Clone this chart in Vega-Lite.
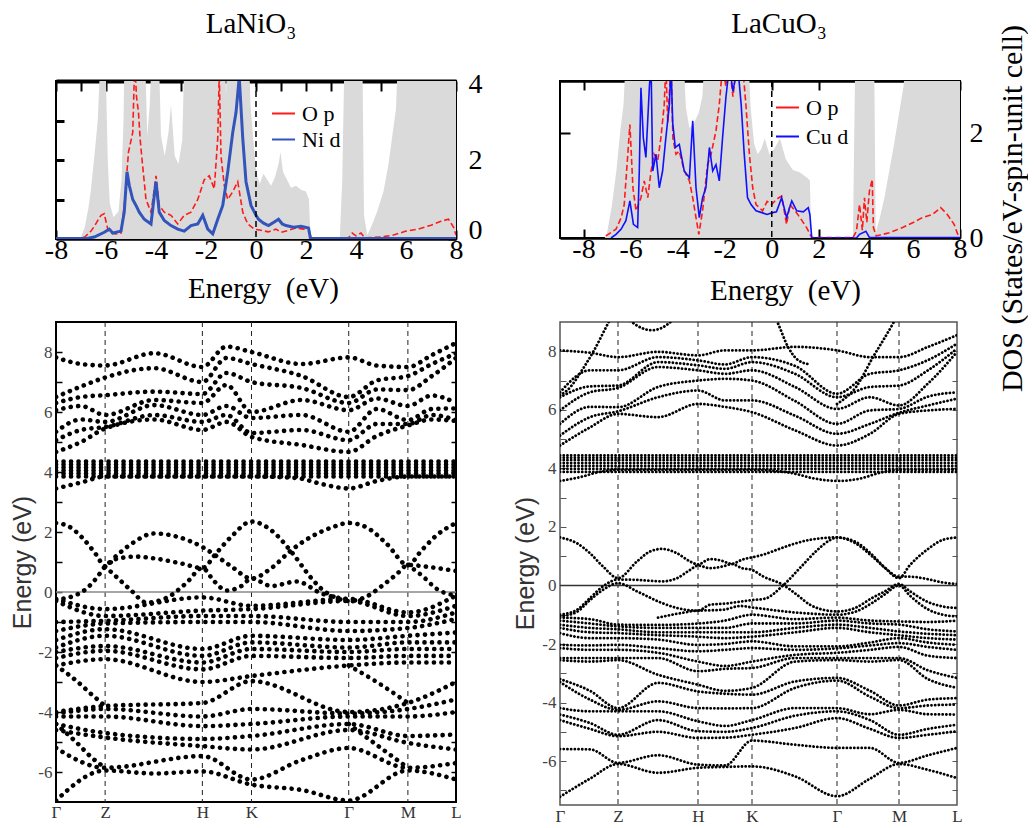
{
"$schema":"https://vega.github.io/schema/vega-lite/v6.json",
"background":"white",
"padding":{"left":9,"top":9,"right":0,"bottom":0},
"config":{"view":{"stroke":"black","strokeWidth":2},"axis":{"grid":false}},
"datasets":{
"dosL":[
{"s":"t","x":-8,"y":0},{"s":"t","x":-7.2,"y":0},{"s":"t","x":-7.0,"y":0.05},{"s":"t","x":-6.85,"y":0.3},{"s":"t","x":-6.7,"y":0.8},{"s":"t","x":-6.6,"y":1.27},{"s":"t","x":-6.45,"y":2.2},{"s":"t","x":-6.33,"y":3.0},{"s":"t","x":-6.25,"y":4.2},{"s":"t","x":-6.1,"y":5},{"s":"t","x":-6.0,"y":4.0},{"s":"t","x":-5.93,"y":2.0},{"s":"t","x":-5.85,"y":0.9},{"s":"t","x":-5.7,"y":0.55},{"s":"t","x":-5.5,"y":0.7},{"s":"t","x":-5.38,"y":1.5},{"s":"t","x":-5.3,"y":3.0},{"s":"t","x":-5.25,"y":5},{"s":"t","x":-4.45,"y":5},{"s":"t","x":-4.35,"y":2.6},{"s":"t","x":-4.25,"y":3.4},{"s":"t","x":-4.15,"y":5},{"s":"t","x":-3.9,"y":5},{"s":"t","x":-3.8,"y":2.6},{"s":"t","x":-3.65,"y":2.1},{"s":"t","x":-3.5,"y":2.7},{"s":"t","x":-3.4,"y":3.4},{"s":"t","x":-3.25,"y":2.1},{"s":"t","x":-3.1,"y":1.9},{"s":"t","x":-2.95,"y":2.5},{"s":"t","x":-2.85,"y":5},{"s":"t","x":-1.25,"y":5},{"s":"t","x":-1.2,"y":3.6},{"s":"t","x":-1.15,"y":5},{"s":"t","x":-0.3,"y":5},{"s":"t","x":-0.22,"y":3.4},{"s":"t","x":-0.12,"y":2.6},{"s":"t","x":-0.02,"y":1.9},{"s":"t","x":0.05,"y":1.6},{"s":"t","x":0.15,"y":1.4},{"s":"t","x":0.3,"y":1.65},{"s":"t","x":0.45,"y":1.5},{"s":"t","x":0.6,"y":1.35},{"s":"t","x":0.75,"y":1.55},{"s":"t","x":0.9,"y":1.9},{"s":"t","x":0.98,"y":2.2},{"s":"t","x":1.08,"y":1.7},{"s":"t","x":1.2,"y":1.55},{"s":"t","x":1.4,"y":1.3},{"s":"t","x":1.6,"y":1.35},{"s":"t","x":1.8,"y":1.25},{"s":"t","x":2.0,"y":1.2},{"s":"t","x":2.12,"y":1.0},{"s":"t","x":2.18,"y":0},{"s":"t","x":3.35,"y":0},{"s":"t","x":3.45,"y":1.5},{"s":"t","x":3.55,"y":5},{"s":"t","x":4.25,"y":5},{"s":"t","x":4.32,"y":0.6},{"s":"t","x":4.45,"y":0.1},{"s":"t","x":4.6,"y":0.3},{"s":"t","x":4.85,"y":0.7},{"s":"t","x":5.1,"y":1.2},{"s":"t","x":5.3,"y":1.9},{"s":"t","x":5.45,"y":2.6},{"s":"t","x":5.6,"y":3.3},{"s":"t","x":5.7,"y":5},{"s":"t","x":8,"y":5},
{"s":"O p","x":-8,"y":0.02},{"s":"O p","x":-7.0,"y":0.03},{"s":"O p","x":-6.85,"y":0.05},{"s":"O p","x":-6.6,"y":0.2},{"s":"O p","x":-6.45,"y":0.34},{"s":"O p","x":-6.3,"y":0.5},{"s":"O p","x":-6.2,"y":0.6},{"s":"O p","x":-6.07,"y":0.64},{"s":"O p","x":-5.93,"y":0.25},{"s":"O p","x":-5.8,"y":0.15},{"s":"O p","x":-5.6,"y":0.13},{"s":"O p","x":-5.4,"y":0.15},{"s":"O p","x":-5.27,"y":0.85},{"s":"O p","x":-5.1,"y":2.2},{"s":"O p","x":-4.93,"y":2.7},{"s":"O p","x":-4.85,"y":4.5},{"s":"O p","x":-4.78,"y":3.6},{"s":"O p","x":-4.7,"y":3.2},{"s":"O p","x":-4.63,"y":2.5},{"s":"O p","x":-4.55,"y":1.95},{"s":"O p","x":-4.4,"y":1.0},{"s":"O p","x":-4.2,"y":0.68},{"s":"O p","x":-4.08,"y":1.2},{"s":"O p","x":-4.0,"y":1.6},{"s":"O p","x":-3.87,"y":0.85},{"s":"O p","x":-3.67,"y":0.68},{"s":"O p","x":-3.4,"y":0.6},{"s":"O p","x":-3.13,"y":0.38},{"s":"O p","x":-2.87,"y":0.6},{"s":"O p","x":-2.6,"y":0.68},{"s":"O p","x":-2.33,"y":1.0},{"s":"O p","x":-2.07,"y":1.5},{"s":"O p","x":-1.87,"y":1.6},{"s":"O p","x":-1.67,"y":1.27},{"s":"O p","x":-1.53,"y":2.55},{"s":"O p","x":-1.47,"y":4.2},{"s":"O p","x":-1.4,"y":2.1},{"s":"O p","x":-1.27,"y":1.36},{"s":"O p","x":-1.13,"y":1.0},{"s":"O p","x":-0.93,"y":1.2},{"s":"O p","x":-0.73,"y":1.45},{"s":"O p","x":-0.53,"y":0.68},{"s":"O p","x":-0.33,"y":0.38},{"s":"O p","x":-0.07,"y":0.25},{"s":"O p","x":0.2,"y":0.22},{"s":"O p","x":0.5,"y":0.18},{"s":"O p","x":0.8,"y":0.25},{"s":"O p","x":1.0,"y":0.17},{"s":"O p","x":1.3,"y":0.22},{"s":"O p","x":1.6,"y":0.28},{"s":"O p","x":1.9,"y":0.25},{"s":"O p","x":2.1,"y":0.28},{"s":"O p","x":2.2,"y":0.03},{"s":"O p","x":3.7,"y":0.03},{"s":"O p","x":3.85,"y":0.15},{"s":"O p","x":4.0,"y":0.08},{"s":"O p","x":4.2,"y":0.15},{"s":"O p","x":4.35,"y":0.03},{"s":"O p","x":5.0,"y":0.05},{"s":"O p","x":5.5,"y":0.1},{"s":"O p","x":6.0,"y":0.2},{"s":"O p","x":6.5,"y":0.25},{"s":"O p","x":7.0,"y":0.35},{"s":"O p","x":7.4,"y":0.45},{"s":"O p","x":7.7,"y":0.5},{"s":"O p","x":7.9,"y":0.3},{"s":"O p","x":8.0,"y":0.1},
{"s":"Ni d","x":-8,"y":0.01},{"s":"Ni d","x":-6.8,"y":0.01},{"s":"Ni d","x":-6.47,"y":0.05},{"s":"Ni d","x":-6.07,"y":0.17},{"s":"Ni d","x":-5.87,"y":0.25},{"s":"Ni d","x":-5.73,"y":0.15},{"s":"Ni d","x":-5.4,"y":0.2},{"s":"Ni d","x":-5.27,"y":0.68},{"s":"Ni d","x":-5.16,"y":1.7},{"s":"Ni d","x":-5.07,"y":1.36},{"s":"Ni d","x":-4.93,"y":1.0},{"s":"Ni d","x":-4.8,"y":0.85},{"s":"Ni d","x":-4.67,"y":0.68},{"s":"Ni d","x":-4.47,"y":0.5},{"s":"Ni d","x":-4.2,"y":0.38},{"s":"Ni d","x":-4.05,"y":1.2},{"s":"Ni d","x":-4.0,"y":1.45},{"s":"Ni d","x":-3.87,"y":0.68},{"s":"Ni d","x":-3.67,"y":0.47},{"s":"Ni d","x":-3.4,"y":0.34},{"s":"Ni d","x":-3.13,"y":0.25},{"s":"Ni d","x":-2.87,"y":0.2},{"s":"Ni d","x":-2.6,"y":0.34},{"s":"Ni d","x":-2.33,"y":0.38},{"s":"Ni d","x":-2.13,"y":0.6},{"s":"Ni d","x":-1.93,"y":0.25},{"s":"Ni d","x":-1.73,"y":0.13},{"s":"Ni d","x":-1.53,"y":0.5},{"s":"Ni d","x":-1.33,"y":0.85},{"s":"Ni d","x":-1.13,"y":1.7},{"s":"Ni d","x":-0.93,"y":2.7},{"s":"Ni d","x":-0.8,"y":3.2},{"s":"Ni d","x":-0.67,"y":4.1},{"s":"Ni d","x":-0.53,"y":2.55},{"s":"Ni d","x":-0.4,"y":1.45},{"s":"Ni d","x":-0.2,"y":0.85},{"s":"Ni d","x":0.0,"y":0.6},{"s":"Ni d","x":0.1,"y":0.5},{"s":"Ni d","x":0.3,"y":0.4},{"s":"Ni d","x":0.5,"y":0.34},{"s":"Ni d","x":0.7,"y":0.42},{"s":"Ni d","x":0.9,"y":0.5},{"s":"Ni d","x":1.05,"y":0.38},{"s":"Ni d","x":1.2,"y":0.34},{"s":"Ni d","x":1.5,"y":0.3},{"s":"Ni d","x":1.8,"y":0.32},{"s":"Ni d","x":2.1,"y":0.28},{"s":"Ni d","x":2.18,"y":0.01},{"s":"Ni d","x":8,"y":0.01}
],
"dosR":[
{"s":"t","x":-9,"y":0},{"s":"t","x":-7.1,"y":0},{"s":"t","x":-7.0,"y":0.1},{"s":"t","x":-6.8,"y":0.6},{"s":"t","x":-6.6,"y":1.3},{"s":"t","x":-6.45,"y":2.0},{"s":"t","x":-6.3,"y":2.55},{"s":"t","x":-6.2,"y":3.5},{"s":"t","x":-3.75,"y":3.5},{"s":"t","x":-3.65,"y":2.5},{"s":"t","x":-3.5,"y":2.1},{"s":"t","x":-3.3,"y":2.2},{"s":"t","x":-3.1,"y":2.4},{"s":"t","x":-2.95,"y":2.7},{"s":"t","x":-2.85,"y":3.5},{"s":"t","x":-1.0,"y":3.5},{"s":"t","x":-0.9,"y":2.5},{"s":"t","x":-0.75,"y":1.8},{"s":"t","x":-0.6,"y":1.6},{"s":"t","x":-0.45,"y":1.7},{"s":"t","x":-0.3,"y":1.9},{"s":"t","x":-0.1,"y":1.6},{"s":"t","x":0.1,"y":1.7},{"s":"t","x":0.35,"y":1.9},{"s":"t","x":0.6,"y":1.5},{"s":"t","x":0.9,"y":1.3},{"s":"t","x":1.2,"y":1.25},{"s":"t","x":1.5,"y":1.15},{"s":"t","x":1.62,"y":1.1},{"s":"t","x":1.68,"y":0},{"s":"t","x":3.45,"y":0},{"s":"t","x":3.55,"y":3.5},{"s":"t","x":4.35,"y":3.5},{"s":"t","x":4.42,"y":0.1},{"s":"t","x":4.6,"y":0.4},{"s":"t","x":4.8,"y":0.8},{"s":"t","x":5.0,"y":1.3},{"s":"t","x":5.2,"y":1.8},{"s":"t","x":5.4,"y":2.35},{"s":"t","x":5.6,"y":2.9},{"s":"t","x":5.72,"y":3.5},{"s":"t","x":8,"y":3.5},
{"s":"O p","x":-7.05,"y":0.04},{"s":"O p","x":-6.62,"y":0.17},{"s":"O p","x":-6.4,"y":0.39},{"s":"O p","x":-6.27,"y":0.64},{"s":"O p","x":-6.15,"y":1.4},{"s":"O p","x":-6.03,"y":2.17},{"s":"O p","x":-5.9,"y":0.96},{"s":"O p","x":-5.77,"y":0.52},{"s":"O p","x":-5.56,"y":0.77},{"s":"O p","x":-5.42,"y":1.09},{"s":"O p","x":-5.27,"y":0.77},{"s":"O p","x":-5.13,"y":1.28},{"s":"O p","x":-5.0,"y":1.6},{"s":"O p","x":-4.85,"y":1.47},{"s":"O p","x":-4.71,"y":1.92},{"s":"O p","x":-4.57,"y":2.55},{"s":"O p","x":-4.5,"y":3.3},{"s":"O p","x":-4.42,"y":2.2},{"s":"O p","x":-4.35,"y":2.8},{"s":"O p","x":-4.28,"y":3.3},{"s":"O p","x":-4.2,"y":1.9},{"s":"O p","x":-4.07,"y":1.6},{"s":"O p","x":-3.93,"y":1.66},{"s":"O p","x":-3.72,"y":1.28},{"s":"O p","x":-3.5,"y":1.09},{"s":"O p","x":-3.36,"y":0.77},{"s":"O p","x":-3.22,"y":0.39},{"s":"O p","x":-3.1,"y":0.07},{"s":"O p","x":-2.94,"y":0.52},{"s":"O p","x":-2.73,"y":1.4},{"s":"O p","x":-2.58,"y":1.6},{"s":"O p","x":-2.37,"y":2.05},{"s":"O p","x":-2.23,"y":2.55},{"s":"O p","x":-2.09,"y":3.3},{"s":"O p","x":-1.95,"y":2.9},{"s":"O p","x":-1.8,"y":3.3},{"s":"O p","x":-1.65,"y":2.7},{"s":"O p","x":-1.5,"y":3.3},{"s":"O p","x":-1.24,"y":3.3},{"s":"O p","x":-1.1,"y":2.55},{"s":"O p","x":-0.95,"y":1.6},{"s":"O p","x":-0.81,"y":0.96},{"s":"O p","x":-0.67,"y":0.64},{"s":"O p","x":-0.39,"y":0.52},{"s":"O p","x":-0.2,"y":0.7},{"s":"O p","x":0.0,"y":0.64},{"s":"O p","x":0.2,"y":0.74},{"s":"O p","x":0.42,"y":0.8},{"s":"O p","x":0.63,"y":0.26},{"s":"O p","x":0.77,"y":0.64},{"s":"O p","x":0.99,"y":0.52},{"s":"O p","x":1.2,"y":0.39},{"s":"O p","x":1.48,"y":0.2},{"s":"O p","x":1.7,"y":0.01},{"s":"O p","x":3.45,"y":0.01},{"s":"O p","x":3.6,"y":0.13},{"s":"O p","x":3.73,"y":0.64},{"s":"O p","x":3.85,"y":0.15},{"s":"O p","x":3.94,"y":0.77},{"s":"O p","x":4.04,"y":0.3},{"s":"O p","x":4.15,"y":0.9},{"s":"O p","x":4.27,"y":1.12},{"s":"O p","x":4.32,"y":0.2},{"s":"O p","x":4.44,"y":0.04},{"s":"O p","x":5.0,"y":0.1},{"s":"O p","x":5.56,"y":0.2},{"s":"O p","x":5.99,"y":0.29},{"s":"O p","x":6.4,"y":0.39},{"s":"O p","x":6.83,"y":0.45},{"s":"O p","x":7.18,"y":0.58},{"s":"O p","x":7.46,"y":0.45},{"s":"O p","x":7.75,"y":0.26},{"s":"O p","x":7.93,"y":0.04},
{"s":"Cu d","x":-6.83,"y":0},{"s":"Cu d","x":-6.62,"y":0.07},{"s":"Cu d","x":-6.4,"y":0.17},{"s":"Cu d","x":-6.2,"y":0.33},{"s":"Cu d","x":-6.03,"y":0.71},{"s":"Cu d","x":-5.88,"y":0.26},{"s":"Cu d","x":-5.7,"y":0.2},{"s":"Cu d","x":-5.63,"y":1.28},{"s":"Cu d","x":-5.56,"y":2.87},{"s":"Cu d","x":-5.46,"y":1.92},{"s":"Cu d","x":-5.35,"y":1.54},{"s":"Cu d","x":-5.2,"y":2.9},{"s":"Cu d","x":-5.13,"y":3.3},{"s":"Cu d","x":-5.06,"y":1.28},{"s":"Cu d","x":-4.92,"y":1.6},{"s":"Cu d","x":-4.78,"y":0.96},{"s":"Cu d","x":-4.64,"y":1.28},{"s":"Cu d","x":-4.5,"y":1.92},{"s":"Cu d","x":-4.35,"y":2.55},{"s":"Cu d","x":-4.28,"y":3.3},{"s":"Cu d","x":-4.21,"y":2.2},{"s":"Cu d","x":-4.1,"y":1.73},{"s":"Cu d","x":-3.93,"y":1.79},{"s":"Cu d","x":-3.72,"y":1.28},{"s":"Cu d","x":-3.5,"y":1.15},{"s":"Cu d","x":-3.36,"y":2.24},{"s":"Cu d","x":-3.22,"y":0.96},{"s":"Cu d","x":-3.08,"y":0.39},{"s":"Cu d","x":-2.94,"y":0.77},{"s":"Cu d","x":-2.8,"y":0.96},{"s":"Cu d","x":-2.65,"y":1.73},{"s":"Cu d","x":-2.51,"y":1.28},{"s":"Cu d","x":-2.37,"y":1.4},{"s":"Cu d","x":-2.23,"y":1.09},{"s":"Cu d","x":-2.09,"y":1.92},{"s":"Cu d","x":-1.95,"y":2.68},{"s":"Cu d","x":-1.8,"y":3.3},{"s":"Cu d","x":-1.65,"y":2.8},{"s":"Cu d","x":-1.45,"y":3.3},{"s":"Cu d","x":-1.3,"y":2.55},{"s":"Cu d","x":-1.17,"y":1.6},{"s":"Cu d","x":-1.03,"y":0.77},{"s":"Cu d","x":-0.88,"y":0.64},{"s":"Cu d","x":-0.67,"y":0.52},{"s":"Cu d","x":-0.39,"y":0.48},{"s":"Cu d","x":-0.2,"y":0.45},{"s":"Cu d","x":0.0,"y":0.48},{"s":"Cu d","x":0.2,"y":0.5},{"s":"Cu d","x":0.42,"y":0.77},{"s":"Cu d","x":0.63,"y":0.39},{"s":"Cu d","x":0.85,"y":0.71},{"s":"Cu d","x":1.06,"y":0.52},{"s":"Cu d","x":1.34,"y":0.5},{"s":"Cu d","x":1.55,"y":0.58},{"s":"Cu d","x":1.62,"y":0.45},{"s":"Cu d","x":1.7,"y":0.0},{"s":"Cu d","x":3.6,"y":0.0},{"s":"Cu d","x":3.73,"y":0.07},{"s":"Cu d","x":4.0,"y":0.13},{"s":"Cu d","x":4.15,"y":0.01},{"s":"Cu d","x":8,"y":0.01}
],
"bandL":[
{"b":"v1","k":0,"e":-0.23},{"b":"v1","k":49,"e":-0.57},{"b":"v1","k":146,"e":-0.18},{"b":"v1","k":195,"e":-0.46},{"b":"v1","k":292,"e":-0.23},{"b":"v1","k":351,"e":-0.68},{"b":"v1","k":399,"e":-0.12},
{"b":"v2","k":0,"e":-0.3},{"b":"v2","k":49,"e":-0.8},{"b":"v2","k":146,"e":-0.62},{"b":"v2","k":195,"e":-0.57},{"b":"v2","k":292,"e":-0.3},{"b":"v2","k":351,"e":-0.8},{"b":"v2","k":399,"e":-0.46},
{"b":"v3","k":0,"e":-1.0},{"b":"v3","k":49,"e":-0.96},{"b":"v3","k":146,"e":-0.8},{"b":"v3","k":195,"e":-0.8},{"b":"v3","k":292,"e":-1.0},{"b":"v3","k":351,"e":-1.0},{"b":"v3","k":399,"e":-0.68},
{"b":"v4","k":0,"e":-1.3},{"b":"v4","k":49,"e":-1.05},{"b":"v4","k":146,"e":-1.0},{"b":"v4","k":195,"e":-1.0},{"b":"v4","k":292,"e":-1.3},{"b":"v4","k":351,"e":-1.2},{"b":"v4","k":399,"e":-0.9},
{"b":"v5","k":0,"e":-1.6},{"b":"v5","k":49,"e":-1.24},{"b":"v5","k":146,"e":-1.9},{"b":"v5","k":195,"e":-1.46},{"b":"v5","k":292,"e":-1.6},{"b":"v5","k":351,"e":-1.46},{"b":"v5","k":399,"e":-1.35},
{"b":"v6","k":0,"e":-1.85},{"b":"v6","k":49,"e":-1.46},{"b":"v6","k":146,"e":-2.13},{"b":"v6","k":195,"e":-1.68},{"b":"v6","k":292,"e":-1.85},{"b":"v6","k":351,"e":-1.68},{"b":"v6","k":399,"e":-1.68},
{"b":"v7","k":0,"e":-2.0},{"b":"v7","k":49,"e":-1.8},{"b":"v7","k":146,"e":-2.35},{"b":"v7","k":195,"e":-1.9},{"b":"v7","k":292,"e":-2.0},{"b":"v7","k":351,"e":-1.9},{"b":"v7","k":399,"e":-1.9},
{"b":"v8","k":0,"e":-2.2},{"b":"v8","k":49,"e":-1.96},{"b":"v8","k":146,"e":-2.58},{"b":"v8","k":195,"e":-2.13},{"b":"v8","k":292,"e":-2.2},{"b":"v8","k":351,"e":-2.13},{"b":"v8","k":399,"e":-2.13},
{"b":"v9","k":0,"e":-2.45},{"b":"v9","k":49,"e":-2.24},{"b":"v9","k":146,"e":-3.0},{"b":"v9","k":195,"e":-2.8},{"b":"v9","k":292,"e":-2.45},{"b":"v9","k":351,"e":-2.35},{"b":"v9","k":399,"e":-2.35},
{"b":"v10","k":0,"e":-4.0},{"b":"v10","k":49,"e":-3.8},{"b":"v10","k":146,"e":-3.7},{"b":"v10","k":195,"e":-2.97},{"b":"v10","k":292,"e":-4.0},{"b":"v10","k":351,"e":-3.7},{"b":"v10","k":399,"e":-3.0},
{"b":"v11","k":0,"e":-4.05},{"b":"v11","k":49,"e":-3.9},{"b":"v11","k":146,"e":-4.15},{"b":"v11","k":195,"e":-3.9},{"b":"v11","k":292,"e":-4.05},{"b":"v11","k":351,"e":-3.9},{"b":"v11","k":399,"e":-3.58},
{"b":"v12","k":0,"e":-4.15},{"b":"v12","k":49,"e":-4.15},{"b":"v12","k":146,"e":-4.47},{"b":"v12","k":195,"e":-4.4},{"b":"v12","k":292,"e":-4.15},{"b":"v12","k":351,"e":-4.15},{"b":"v12","k":399,"e":-4.0},
{"b":"v13","k":0,"e":-4.4},{"b":"v13","k":49,"e":-4.7},{"b":"v13","k":146,"e":-4.9},{"b":"v13","k":195,"e":-4.8},{"b":"v13","k":292,"e":-4.4},{"b":"v13","k":351,"e":-4.8},{"b":"v13","k":399,"e":-4.75},
{"b":"v14","k":0,"e":-4.6},{"b":"v14","k":49,"e":-4.85},{"b":"v14","k":146,"e":-5.14},{"b":"v14","k":195,"e":-5.25},{"b":"v14","k":292,"e":-4.6},{"b":"v14","k":351,"e":-5.03},{"b":"v14","k":399,"e":-5.25},
{"b":"v15","k":0,"e":-5.2},{"b":"v15","k":49,"e":-5.86},{"b":"v15","k":146,"e":-5.47},{"b":"v15","k":195,"e":-6.25},{"b":"v15","k":245,"e":-5.6},{"b":"v15","k":292,"e":-5.2},{"b":"v15","k":351,"e":-5.86},{"b":"v15","k":399,"e":-5.7},
{"b":"v16","k":0,"e":-6.95},{"b":"v16","k":49,"e":-5.95},{"b":"v16","k":98,"e":-6.05},{"b":"v16","k":146,"e":-5.98},{"b":"v16","k":195,"e":-6.42},{"b":"v16","k":245,"e":-6.6},{"b":"v16","k":292,"e":-6.95},{"b":"v16","k":351,"e":-5.95},{"b":"v16","k":399,"e":-6.25},
{"b":"x1","k":0,"e":-2.45},{"b":"x1","k":20,"e":-2.95},{"b":"x1","k":35,"e":-3.4},{"b":"x1","k":49,"e":-3.8},
{"b":"x2","k":0,"e":-4.4},{"b":"x2","k":20,"e":-5.0},{"b":"x2","k":35,"e":-5.5},{"b":"x2","k":49,"e":-5.86},
{"b":"x4","k":292,"e":-2.45},{"b":"x4","k":320,"e":-3.0},{"b":"x4","k":351,"e":-3.7},
{"b":"x5","k":292,"e":-4.4},{"b":"x5","k":320,"e":-5.1},{"b":"x5","k":351,"e":-5.86},
{"b":"LA","k":0,"e":2.3},{"b":"LA","k":12,"e":2.2},{"b":"LA","k":25,"e":1.85},{"b":"LA","k":40,"e":1.25},{"b":"LA","k":49,"e":0.85},{"b":"LA","k":60,"e":1.2},{"b":"LA","k":75,"e":1.6},{"b":"LA","k":98,"e":1.95},{"b":"LA","k":120,"e":1.85},{"b":"LA","k":146,"e":1.5},{"b":"LA","k":160,"e":1.2},{"b":"LA","k":175,"e":0.85},{"b":"LA","k":195,"e":0.45},{"b":"LA","k":215,"e":0.8},{"b":"LA","k":235,"e":1.4},{"b":"LA","k":255,"e":1.85},{"b":"LA","k":275,"e":2.15},{"b":"LA","k":292,"e":2.3},{"b":"LA","k":310,"e":2.15},{"b":"LA","k":330,"e":1.6},{"b":"LA","k":351,"e":0.9},{"b":"LA","k":365,"e":1.4},{"b":"LA","k":380,"e":1.9},{"b":"LA","k":399,"e":2.3},
{"b":"LB","k":0,"e":-0.25},{"b":"LB","k":20,"e":-0.1},{"b":"LB","k":30,"e":0.1},{"b":"LB","k":40,"e":0.45},{"b":"LB","k":49,"e":0.85},{"b":"LB","k":60,"e":1.1},{"b":"LB","k":80,"e":1.18},{"b":"LB","k":98,"e":1.12},{"b":"LB","k":125,"e":0.95},{"b":"LB","k":146,"e":0.8},{"b":"LB","k":160,"e":1.3},{"b":"LB","k":175,"e":1.85},{"b":"LB","k":195,"e":2.35},{"b":"LB","k":215,"e":2.05},{"b":"LB","k":235,"e":1.33},{"b":"LB","k":255,"e":0.45},{"b":"LB","k":265,"e":0.1},{"b":"LB","k":280,"e":-0.2},{"b":"LB","k":292,"e":-0.3},{"b":"LB","k":310,"e":-0.15},{"b":"LB","k":325,"e":0.2},{"b":"LB","k":340,"e":0.6},{"b":"LB","k":351,"e":0.9},{"b":"LB","k":375,"e":0.82},{"b":"LB","k":399,"e":0.7},
{"b":"LC","k":49,"e":0.85},{"b":"LC","k":62,"e":0.45},{"b":"LC","k":75,"e":0.05},{"b":"LC","k":90,"e":-0.35},{"b":"LC","k":110,"e":-0.2},{"b":"LC","k":130,"e":0.3},{"b":"LC","k":146,"e":0.8},{"b":"LC","k":158,"e":0.35},{"b":"LC","k":170,"e":0.05},{"b":"LC","k":185,"e":0.2},{"b":"LC","k":195,"e":0.45},{"b":"LC","k":215,"e":0.2},{"b":"LC","k":240,"e":0.35},{"b":"LC","k":265,"e":-0.05},{"b":"LC","k":292,"e":-0.25},
{"b":"LD","k":351,"e":0.9},{"b":"LD","k":365,"e":0.55},{"b":"LD","k":380,"e":0.1},{"b":"LD","k":399,"e":-0.12},
{"b":"f1","k":0,"e":3.85},{"b":"f1","k":399,"e":3.85},{"b":"f2","k":0,"e":3.95},{"b":"f2","k":399,"e":3.95},{"b":"f3","k":0,"e":4.05},{"b":"f3","k":399,"e":4.05},{"b":"f4","k":0,"e":4.15},{"b":"f4","k":399,"e":4.15},{"b":"f5","k":0,"e":4.25},{"b":"f5","k":399,"e":4.25},{"b":"f6","k":0,"e":4.35},{"b":"f6","k":399,"e":4.35},
{"b":"cb","k":0,"e":3.45},{"b":"cb","k":25,"e":3.65},{"b":"cb","k":49,"e":3.85},{"b":"cb","k":146,"e":3.85},{"b":"cb","k":195,"e":3.85},{"b":"cb","k":240,"e":3.8},{"b":"cb","k":265,"e":3.6},{"b":"cb","k":292,"e":3.45},{"b":"cb","k":320,"e":3.7},{"b":"cb","k":351,"e":3.85},{"b":"cb","k":399,"e":3.85},
{"b":"c1","k":0,"e":7.82},{"b":"c1","k":25,"e":7.6},{"b":"c1","k":49,"e":7.55},{"b":"c1","k":98,"e":7.96},{"b":"c1","k":146,"e":7.5},{"b":"c1","k":170,"e":8.18},{"b":"c1","k":195,"e":8.0},{"b":"c1","k":245,"e":7.6},{"b":"c1","k":292,"e":7.82},{"b":"c1","k":320,"e":7.55},{"b":"c1","k":351,"e":7.5},{"b":"c1","k":375,"e":7.9},{"b":"c1","k":399,"e":8.3},
{"b":"c2","k":0,"e":6.5},{"b":"c2","k":25,"e":6.85},{"b":"c2","k":49,"e":7.15},{"b":"c2","k":98,"e":7.46},{"b":"c2","k":146,"e":7.0},{"b":"c2","k":170,"e":7.8},{"b":"c2","k":195,"e":7.6},{"b":"c2","k":245,"e":7.2},{"b":"c2","k":292,"e":6.5},{"b":"c2","k":320,"e":7.05},{"b":"c2","k":351,"e":7.2},{"b":"c2","k":375,"e":7.6},{"b":"c2","k":399,"e":7.95},
{"b":"c3","k":0,"e":6.3},{"b":"c3","k":25,"e":6.5},{"b":"c3","k":49,"e":6.56},{"b":"c3","k":98,"e":6.68},{"b":"c3","k":146,"e":6.6},{"b":"c3","k":170,"e":7.3},{"b":"c3","k":195,"e":7.0},{"b":"c3","k":245,"e":6.8},{"b":"c3","k":292,"e":6.3},{"b":"c3","k":320,"e":6.75},{"b":"c3","k":351,"e":6.73},{"b":"c3","k":375,"e":7.2},{"b":"c3","k":399,"e":7.8},
{"b":"c4","k":0,"e":6.06},{"b":"c4","k":25,"e":6.2},{"b":"c4","k":49,"e":5.9},{"b":"c4","k":98,"e":6.4},{"b":"c4","k":146,"e":6.3},{"b":"c4","k":170,"e":6.9},{"b":"c4","k":195,"e":6.0},{"b":"c4","k":245,"e":6.4},{"b":"c4","k":292,"e":6.06},{"b":"c4","k":320,"e":6.45},{"b":"c4","k":351,"e":6.2},{"b":"c4","k":375,"e":6.55},{"b":"c4","k":399,"e":6.3},
{"b":"c5","k":0,"e":5.34},{"b":"c5","k":25,"e":5.75},{"b":"c5","k":49,"e":5.67},{"b":"c5","k":98,"e":6.23},{"b":"c5","k":146,"e":5.9},{"b":"c5","k":170,"e":6.2},{"b":"c5","k":195,"e":5.8},{"b":"c5","k":245,"e":5.9},{"b":"c5","k":292,"e":5.34},{"b":"c5","k":320,"e":6.1},{"b":"c5","k":351,"e":5.73},{"b":"c5","k":375,"e":6.1},{"b":"c5","k":399,"e":6.12},
{"b":"c6","k":0,"e":5.06},{"b":"c6","k":25,"e":5.4},{"b":"c6","k":49,"e":5.5},{"b":"c6","k":98,"e":5.9},{"b":"c6","k":146,"e":5.67},{"b":"c6","k":170,"e":5.9},{"b":"c6","k":195,"e":5.3},{"b":"c6","k":245,"e":5.4},{"b":"c6","k":292,"e":5.06},{"b":"c6","k":320,"e":5.6},{"b":"c6","k":351,"e":5.6},{"b":"c6","k":375,"e":5.9},{"b":"c6","k":399,"e":5.73},
{"b":"c7","k":0,"e":4.67},{"b":"c7","k":25,"e":5.0},{"b":"c7","k":49,"e":5.45},{"b":"c7","k":98,"e":5.75},{"b":"c7","k":146,"e":5.4},{"b":"c7","k":170,"e":5.67},{"b":"c7","k":195,"e":5.17},{"b":"c7","k":245,"e":4.9},{"b":"c7","k":292,"e":4.67},{"b":"c7","k":320,"e":5.2},{"b":"c7","k":351,"e":5.55},{"b":"c7","k":375,"e":5.75},{"b":"c7","k":399,"e":5.7}
],
"bandR":[
{"b":"w1","k":0,"e":-1.1},{"b":"w1","k":30,"e":-1.15},{"b":"w1","k":58,"e":-1.34},{"b":"w1","k":98,"e":-1.35},{"b":"w1","k":138,"e":-1.3},{"b":"w1","k":165,"e":-1.2},{"b":"w1","k":192,"e":-1.0},{"b":"w1","k":235,"e":-1.15},{"b":"w1","k":277,"e":-1.1},{"b":"w1","k":310,"e":-1.2},{"b":"w1","k":339,"e":-1.23},{"b":"w1","k":368,"e":-1.25},{"b":"w1","k":397,"e":-1.2},
{"b":"w2","k":0,"e":-1.2},{"b":"w2","k":30,"e":-1.3},{"b":"w2","k":58,"e":-1.4},{"b":"w2","k":98,"e":-1.45},{"b":"w2","k":138,"e":-1.45},{"b":"w2","k":165,"e":-1.45},{"b":"w2","k":192,"e":-1.3},{"b":"w2","k":235,"e":-1.3},{"b":"w2","k":277,"e":-1.2},{"b":"w2","k":310,"e":-1.3},{"b":"w2","k":339,"e":-1.34},{"b":"w2","k":368,"e":-1.5},{"b":"w2","k":397,"e":-1.57},
{"b":"w3","k":0,"e":-1.34},{"b":"w3","k":30,"e":-1.45},{"b":"w3","k":58,"e":-1.5},{"b":"w3","k":98,"e":-1.6},{"b":"w3","k":138,"e":-1.6},{"b":"w3","k":165,"e":-1.6},{"b":"w3","k":192,"e":-1.6},{"b":"w3","k":235,"e":-1.45},{"b":"w3","k":277,"e":-1.34},{"b":"w3","k":310,"e":-1.45},{"b":"w3","k":339,"e":-1.57},{"b":"w3","k":368,"e":-1.65},{"b":"w3","k":397,"e":-1.7},
{"b":"w4","k":0,"e":-1.45},{"b":"w4","k":30,"e":-1.6},{"b":"w4","k":58,"e":-1.63},{"b":"w4","k":98,"e":-1.7},{"b":"w4","k":138,"e":-1.75},{"b":"w4","k":165,"e":-1.8},{"b":"w4","k":192,"e":-1.75},{"b":"w4","k":235,"e":-1.6},{"b":"w4","k":277,"e":-1.45},{"b":"w4","k":310,"e":-1.6},{"b":"w4","k":339,"e":-1.7},{"b":"w4","k":368,"e":-1.8},{"b":"w4","k":397,"e":-1.85},
{"b":"w5","k":0,"e":-1.63},{"b":"w5","k":30,"e":-1.8},{"b":"w5","k":58,"e":-1.8},{"b":"w5","k":98,"e":-1.85},{"b":"w5","k":138,"e":-2.03},{"b":"w5","k":165,"e":-2.0},{"b":"w5","k":192,"e":-1.91},{"b":"w5","k":235,"e":-2.08},{"b":"w5","k":277,"e":-2.08},{"b":"w5","k":310,"e":-1.95},{"b":"w5","k":339,"e":-1.8},{"b":"w5","k":368,"e":-1.95},{"b":"w5","k":397,"e":-2.03},
{"b":"w6","k":0,"e":-2.03},{"b":"w6","k":30,"e":-2.05},{"b":"w6","k":58,"e":-2.03},{"b":"w6","k":98,"e":-2.14},{"b":"w6","k":138,"e":-2.25},{"b":"w6","k":165,"e":-2.2},{"b":"w6","k":192,"e":-2.14},{"b":"w6","k":235,"e":-2.2},{"b":"w6","k":277,"e":-2.15},{"b":"w6","k":310,"e":-2.05},{"b":"w6","k":339,"e":-1.97},{"b":"w6","k":368,"e":-2.1},{"b":"w6","k":397,"e":-2.2},
{"b":"w7","k":0,"e":-2.14},{"b":"w7","k":30,"e":-2.2},{"b":"w7","k":58,"e":-2.2},{"b":"w7","k":98,"e":-2.3},{"b":"w7","k":138,"e":-2.6},{"b":"w7","k":165,"e":-2.75},{"b":"w7","k":192,"e":-2.6},{"b":"w7","k":235,"e":-2.37},{"b":"w7","k":277,"e":-2.3},{"b":"w7","k":310,"e":-2.2},{"b":"w7","k":339,"e":-2.1},{"b":"w7","k":368,"e":-2.4},{"b":"w7","k":397,"e":-2.48},
{"b":"w8","k":0,"e":-2.48},{"b":"w8","k":30,"e":-2.48},{"b":"w8","k":58,"e":-2.48},{"b":"w8","k":98,"e":-2.48},{"b":"w8","k":138,"e":-2.93},{"b":"w8","k":165,"e":-2.85},{"b":"w8","k":192,"e":-2.82},{"b":"w8","k":235,"e":-2.48},{"b":"w8","k":277,"e":-2.48},{"b":"w8","k":310,"e":-2.48},{"b":"w8","k":339,"e":-2.48},{"b":"w8","k":368,"e":-2.9},{"b":"w8","k":397,"e":-3.16},
{"b":"w9","k":0,"e":-2.55},{"b":"w9","k":30,"e":-2.6},{"b":"w9","k":58,"e":-2.55},{"b":"w9","k":98,"e":-3.05},{"b":"w9","k":138,"e":-3.39},{"b":"w9","k":165,"e":-3.6},{"b":"w9","k":192,"e":-3.5},{"b":"w9","k":235,"e":-2.6},{"b":"w9","k":277,"e":-2.55},{"b":"w9","k":310,"e":-2.6},{"b":"w9","k":339,"e":-2.55},{"b":"w9","k":368,"e":-3.2},{"b":"w9","k":397,"e":-3.5},
{"b":"w10","k":0,"e":-3.2},{"b":"w10","k":30,"e":-3.6},{"b":"w10","k":58,"e":-4.19},{"b":"w10","k":98,"e":-3.33},{"b":"w10","k":138,"e":-3.62},{"b":"w10","k":165,"e":-3.7},{"b":"w10","k":192,"e":-3.73},{"b":"w10","k":235,"e":-3.28},{"b":"w10","k":277,"e":-3.16},{"b":"w10","k":310,"e":-3.6},{"b":"w10","k":339,"e":-4.1},{"b":"w10","k":368,"e":-3.9},{"b":"w10","k":397,"e":-3.85},
{"b":"w11","k":0,"e":-3.3},{"b":"w11","k":30,"e":-3.9},{"b":"w11","k":58,"e":-4.25},{"b":"w11","k":98,"e":-3.96},{"b":"w11","k":138,"e":-4.19},{"b":"w11","k":165,"e":-4.2},{"b":"w11","k":192,"e":-4.19},{"b":"w11","k":235,"e":-3.5},{"b":"w11","k":277,"e":-3.25},{"b":"w11","k":310,"e":-3.8},{"b":"w11","k":339,"e":-4.19},{"b":"w11","k":368,"e":-4.1},{"b":"w11","k":397,"e":-4.07},
{"b":"w12","k":0,"e":-4.19},{"b":"w12","k":30,"e":-4.3},{"b":"w12","k":58,"e":-4.3},{"b":"w12","k":98,"e":-4.3},{"b":"w12","k":138,"e":-4.64},{"b":"w12","k":165,"e":-4.8},{"b":"w12","k":192,"e":-4.6},{"b":"w12","k":235,"e":-4.19},{"b":"w12","k":277,"e":-4.19},{"b":"w12","k":310,"e":-4.4},{"b":"w12","k":339,"e":-4.25},{"b":"w12","k":368,"e":-4.4},{"b":"w12","k":397,"e":-4.41},
{"b":"w13","k":0,"e":-4.41},{"b":"w13","k":30,"e":-4.7},{"b":"w13","k":58,"e":-5.1},{"b":"w13","k":98,"e":-4.6},{"b":"w13","k":138,"e":-4.98},{"b":"w13","k":165,"e":-5.0},{"b":"w13","k":192,"e":-4.87},{"b":"w13","k":235,"e":-4.45},{"b":"w13","k":277,"e":-4.3},{"b":"w13","k":310,"e":-4.6},{"b":"w13","k":339,"e":-5.1},{"b":"w13","k":368,"e":-4.9},{"b":"w13","k":397,"e":-4.76},
{"b":"w14","k":0,"e":-4.6},{"b":"w14","k":30,"e":-4.9},{"b":"w14","k":58,"e":-5.15},{"b":"w14","k":98,"e":-5.0},{"b":"w14","k":138,"e":-5.21},{"b":"w14","k":165,"e":-5.2},{"b":"w14","k":192,"e":-5.1},{"b":"w14","k":235,"e":-4.87},{"b":"w14","k":277,"e":-4.53},{"b":"w14","k":310,"e":-4.9},{"b":"w14","k":339,"e":-5.21},{"b":"w14","k":368,"e":-5.1},{"b":"w14","k":397,"e":-4.98},
{"b":"w15","k":0,"e":-5.59},{"b":"w15","k":30,"e":-5.6},{"b":"w15","k":58,"e":-6.06},{"b":"w15","k":98,"e":-5.8},{"b":"w15","k":138,"e":-6.12},{"b":"w15","k":165,"e":-6.15},{"b":"w15","k":192,"e":-5.3},{"b":"w15","k":235,"e":-5.44},{"b":"w15","k":277,"e":-5.55},{"b":"w15","k":310,"e":-5.55},{"b":"w15","k":339,"e":-6.06},{"b":"w15","k":368,"e":-5.8},{"b":"w15","k":397,"e":-5.55},
{"b":"w16","k":0,"e":-7.22},{"b":"w16","k":30,"e":-6.6},{"b":"w16","k":58,"e":-6.1},{"b":"w16","k":98,"e":-6.4},{"b":"w16","k":138,"e":-6.23},{"b":"w16","k":165,"e":-6.2},{"b":"w16","k":192,"e":-6.18},{"b":"w16","k":235,"e":-6.52},{"b":"w16","k":277,"e":-7.2},{"b":"w16","k":310,"e":-6.6},{"b":"w16","k":339,"e":-6.1},{"b":"w16","k":368,"e":-6.3},{"b":"w16","k":397,"e":-6.58},
{"b":"RA","k":0,"e":1.64},{"b":"RA","k":17,"e":1.44},{"b":"RA","k":30,"e":1.1},{"b":"RA","k":43,"e":0.65},{"b":"RA","k":58,"e":0.25},{"b":"RA","k":77,"e":0.82},{"b":"RA","k":90,"e":1.16},{"b":"RA","k":102,"e":1.25},{"b":"RA","k":117,"e":1.1},{"b":"RA","k":130,"e":0.82},{"b":"RA","k":138,"e":0.72},{"b":"RA","k":150,"e":0.9},{"b":"RA","k":160,"e":0.86},{"b":"RA","k":172,"e":0.74},{"b":"RA","k":182,"e":0.88},{"b":"RA","k":192,"e":0.96},{"b":"RA","k":203,"e":1.05},{"b":"RA","k":217,"e":1.22},{"b":"RA","k":233,"e":1.41},{"b":"RA","k":250,"e":1.56},{"b":"RA","k":277,"e":1.64},{"b":"RA","k":295,"e":1.5},{"b":"RA","k":312,"e":1.05},{"b":"RA","k":325,"e":0.6},{"b":"RA","k":339,"e":0.25},{"b":"RA","k":350,"e":0.7},{"b":"RA","k":367,"e":1.22},{"b":"RA","k":383,"e":1.56},{"b":"RA","k":397,"e":1.64},
{"b":"RB","k":0,"e":-1.0},{"b":"RB","k":17,"e":-0.83},{"b":"RB","k":30,"e":-0.43},{"b":"RB","k":43,"e":-0.03},{"b":"RB","k":58,"e":0.2},{"b":"RB","k":77,"e":0.19},{"b":"RB","k":102,"e":0.14},{"b":"RB","k":117,"e":0.25},{"b":"RB","k":130,"e":0.53},{"b":"RB","k":138,"e":0.68},{"b":"RB","k":150,"e":0.59},{"b":"RB","k":163,"e":0.65},{"b":"RB","k":172,"e":0.73},{"b":"RB","k":182,"e":0.59},{"b":"RB","k":192,"e":0.53},{"b":"RB","k":203,"e":0.31},{"b":"RB","k":223,"e":0.02},{"b":"RB","k":237,"e":-0.32},{"b":"RB","k":250,"e":-0.66},{"b":"RB","k":263,"e":-0.83},{"b":"RB","k":277,"e":-0.89},{"b":"RB","k":295,"e":-0.77},{"b":"RB","k":312,"e":-0.43},{"b":"RB","k":325,"e":-0.2},{"b":"RB","k":339,"e":0.05},{"b":"RB","k":350,"e":-0.2},{"b":"RB","k":367,"e":-0.55},{"b":"RB","k":383,"e":-0.72},{"b":"RB","k":397,"e":-0.77},
{"b":"RC","k":0,"e":-1.06},{"b":"RC","k":17,"e":-0.9},{"b":"RC","k":30,"e":-0.5},{"b":"RC","k":43,"e":-0.15},{"b":"RC","k":58,"e":0.08},{"b":"RC","k":77,"e":-0.2},{"b":"RC","k":102,"e":-0.6},{"b":"RC","k":117,"e":-0.77},{"b":"RC","k":138,"e":-0.86},{"b":"RC","k":150,"e":-0.66},{"b":"RC","k":165,"e":-0.62},{"b":"RC","k":192,"e":-0.5},{"b":"RC","k":205,"e":-0.45},{"b":"RC","k":223,"e":0.0},{"b":"RC","k":240,"e":0.6},{"b":"RC","k":257,"e":1.2},{"b":"RC","k":270,"e":1.55},{"b":"RC","k":277,"e":1.64},{"b":"RC","k":295,"e":1.45},{"b":"RC","k":312,"e":1.0},{"b":"RC","k":325,"e":0.6},{"b":"RC","k":339,"e":0.3},{"b":"RC","k":350,"e":0.3},{"b":"RC","k":367,"e":0.22},{"b":"RC","k":383,"e":0.1},{"b":"RC","k":397,"e":0.05},
{"b":"RD","k":98,"e":-1.1},{"b":"RD","k":120,"e":-0.95},{"b":"RD","k":138,"e":-0.86},{"b":"RD","k":150,"e":-0.85},{"b":"RD","k":165,"e":-0.82},{"b":"RD","k":180,"e":-0.7},{"b":"RD","k":192,"e":-0.75},{"b":"RD","k":215,"e":-0.85},{"b":"RD","k":245,"e":-0.95},{"b":"RD","k":277,"e":-1.0},{"b":"RD","k":295,"e":-0.9},{"b":"RD","k":312,"e":-0.6},{"b":"RD","k":325,"e":-0.3},{"b":"RD","k":339,"e":0.0},{"b":"RD","k":350,"e":-0.35},{"b":"RD","k":367,"e":-0.8},{"b":"RD","k":383,"e":-1.0},{"b":"RD","k":397,"e":-1.06},
{"b":"S1","k":0,"e":6.5},{"b":"S1","k":7,"e":6.66},{"b":"S1","k":24,"e":7.46},{"b":"S1","k":34,"e":8.03},{"b":"S1","k":48,"e":8.95},{"b":"S1","k":55,"e":9.4},
{"b":"S2","k":212,"e":9.4},{"b":"S2","k":218,"e":8.95},{"b":"S2","k":228,"e":8.15},{"b":"S2","k":238,"e":7.7},{"b":"S2","k":250,"e":7.55},
{"b":"S3","k":277,"e":6.2},{"b":"S3","k":296,"e":6.78},{"b":"S3","k":313,"e":7.8},{"b":"S3","k":333,"e":8.95},{"b":"S3","k":340,"e":9.4},
{"b":"S4","k":60,"e":9.4},{"b":"S4","k":70,"e":9.05},{"b":"S4","k":92,"e":8.72},{"b":"S4","k":112,"e":9.05},{"b":"S4","k":120,"e":9.4},
{"b":"g1","k":0,"e":3.88},{"b":"g1","k":397,"e":3.88},{"b":"g2","k":0,"e":3.98},{"b":"g2","k":397,"e":3.98},{"b":"g3","k":0,"e":4.08},{"b":"g3","k":397,"e":4.08},{"b":"g4","k":0,"e":4.18},{"b":"g4","k":397,"e":4.18},{"b":"g5","k":0,"e":4.28},{"b":"g5","k":397,"e":4.28},{"b":"g6","k":0,"e":4.36},{"b":"g6","k":397,"e":4.36},{"b":"g7","k":0,"e":4.44},{"b":"g7","k":397,"e":4.44},
{"b":"gb","k":0,"e":3.57},{"b":"gb","k":20,"e":3.7},{"b":"gb","k":40,"e":3.88},{"b":"gb","k":58,"e":3.95},{"b":"gb","k":192,"e":3.95},{"b":"gb","k":230,"e":3.85},{"b":"gb","k":255,"e":3.65},{"b":"gb","k":277,"e":3.57},{"b":"gb","k":300,"e":3.65},{"b":"gb","k":320,"e":3.85},{"b":"gb","k":339,"e":3.95},{"b":"gb","k":397,"e":3.95},
{"b":"u1","k":0,"e":8.03},{"b":"u1","k":30,"e":7.95},{"b":"u1","k":58,"e":7.8},{"b":"u1","k":98,"e":7.98},{"b":"u1","k":138,"e":7.86},{"b":"u1","k":165,"e":8.03},{"b":"u1","k":192,"e":8.03},{"b":"u1","k":235,"e":8.15},{"b":"u1","k":277,"e":8.03},{"b":"u1","k":310,"e":7.8},{"b":"u1","k":339,"e":7.8},{"b":"u1","k":368,"e":8.15},{"b":"u1","k":397,"e":8.55},
{"b":"u2","k":0,"e":6.6},{"b":"u2","k":30,"e":7.35},{"b":"u2","k":58,"e":7.35},{"b":"u2","k":98,"e":7.8},{"b":"u2","k":138,"e":7.69},{"b":"u2","k":165,"e":7.55},{"b":"u2","k":192,"e":7.8},{"b":"u2","k":235,"e":7.5},{"b":"u2","k":277,"e":6.55},{"b":"u2","k":310,"e":7.23},{"b":"u2","k":339,"e":7.35},{"b":"u2","k":368,"e":7.7},{"b":"u2","k":397,"e":8.26},
{"b":"u3","k":0,"e":6.43},{"b":"u3","k":30,"e":6.8},{"b":"u3","k":58,"e":6.83},{"b":"u3","k":98,"e":7.63},{"b":"u3","k":138,"e":7.52},{"b":"u3","k":165,"e":7.4},{"b":"u3","k":192,"e":7.63},{"b":"u3","k":235,"e":7.23},{"b":"u3","k":277,"e":6.43},{"b":"u3","k":310,"e":6.78},{"b":"u3","k":339,"e":6.83},{"b":"u3","k":368,"e":7.35},{"b":"u3","k":397,"e":8.09},
{"b":"u4","k":0,"e":5.98},{"b":"u4","k":30,"e":6.6},{"b":"u4","k":58,"e":6.75},{"b":"u4","k":98,"e":7.46},{"b":"u4","k":138,"e":7.35},{"b":"u4","k":165,"e":7.23},{"b":"u4","k":192,"e":7.35},{"b":"u4","k":235,"e":6.78},{"b":"u4","k":277,"e":6.03},{"b":"u4","k":310,"e":6.43},{"b":"u4","k":339,"e":6.15},{"b":"u4","k":368,"e":6.9},{"b":"u4","k":397,"e":7.98},
{"b":"u5","k":0,"e":5.52},{"b":"u5","k":30,"e":6.1},{"b":"u5","k":58,"e":6.09},{"b":"u5","k":98,"e":6.78},{"b":"u5","k":138,"e":7.0},{"b":"u5","k":165,"e":7.06},{"b":"u5","k":192,"e":7.0},{"b":"u5","k":235,"e":6.3},{"b":"u5","k":277,"e":5.52},{"b":"u5","k":310,"e":5.98},{"b":"u5","k":339,"e":6.03},{"b":"u5","k":368,"e":6.45},{"b":"u5","k":397,"e":6.6},
{"b":"u6","k":0,"e":5.12},{"b":"u6","k":30,"e":5.75},{"b":"u6","k":58,"e":5.95},{"b":"u6","k":98,"e":6.43},{"b":"u6","k":138,"e":6.66},{"b":"u6","k":165,"e":6.32},{"b":"u6","k":192,"e":6.32},{"b":"u6","k":235,"e":5.8},{"b":"u6","k":277,"e":5.18},{"b":"u6","k":310,"e":5.52},{"b":"u6","k":339,"e":5.9},{"b":"u6","k":368,"e":6.15},{"b":"u6","k":397,"e":6.38},
{"b":"u7","k":0,"e":4.78},{"b":"u7","k":30,"e":5.4},{"b":"u7","k":58,"e":5.86},{"b":"u7","k":98,"e":5.75},{"b":"u7","k":138,"e":6.2},{"b":"u7","k":165,"e":6.1},{"b":"u7","k":192,"e":5.92},{"b":"u7","k":235,"e":5.3},{"b":"u7","k":277,"e":4.78},{"b":"u7","k":310,"e":5.18},{"b":"u7","k":339,"e":5.86},{"b":"u7","k":368,"e":5.98},{"b":"u7","k":397,"e":6.03}
]
},
"columns":2,
"spacing":{"row":83,"column":104},
"bounds":"flush",
"resolve":{"scale":{"color":"independent"},"legend":{"color":"independent"}},
"concat":[
{"width":400,"height":158,
 "title":{"text":"LaNiO₃","font":"Liberation Serif","fontSize":29,"fontWeight":"normal","color":"black","baseline":"alphabetic","offset":8,"dx":-5,"anchor":"middle"},
 "data":{"name":"dosL"},
 "resolve":{"axis":{"x":"independent","y":"independent"}},
 "layer":[
  {"transform":[{"filter":"datum.s=='t'"}],
   "mark":{"type":"area","color":"#dadada","clip":true},
   "encoding":{
    "x":{"field":"x","type":"quantitative","scale":{"domain":[-8,8],"nice":false,"zero":false},
     "axis":{"orient":"bottom","values":[-8,-6,-4,-2,0,2,4,6,8],"labelExpr":"''+datum.value","labelFont":"Liberation Serif","labelFontSize":28,"labelColor":"black","labelFlush":false,"labelOverlap":false,"tickSize":-9,"tickWidth":2,"tickColor":"black","labelPadding":6,"domain":true,"domainColor":"black","domainWidth":2.5,"title":"Energy\u00a0 (eV)","titleFont":"Liberation Serif","titleFontSize":29,"titleFontWeight":"normal","titleColor":"black","titleX":207,"titleY":58,"titleBaseline":"alphabetic","titleAlign":"center"}},
    "y":{"field":"y","type":"quantitative","scale":{"domain":[0,4],"nice":false,"zero":false},
     "axis":{"orient":"right","values":[0,1,2,3],"labelExpr":"datum.value%2==0?''+datum.value:''","labelFont":"Liberation Serif","labelFontSize":28,"labelColor":"black","labelFlush":true,"labelFlushOffset":5,"labelOverlap":false,"tickSize":-8,"tickWidth":2,"tickColor":"black","labelPadding":20,"domain":false,"title":null}}}},
  {"transform":[{"filter":"datum.s=='O p'"}],
   "mark":{"type":"line","strokeDash":[6,3],"strokeWidth":1.6,"clip":true},
   "encoding":{
    "x":{"field":"x","type":"quantitative","scale":{"domain":[-8,8],"nice":false,"zero":false},
     "axis":{"orient":"top","values":[-8,-7,-6,-5,-4,-3,-2,-1,0,1,2,3,4,5,6,7,8],"labels":false,"tickSize":-10,"tickWidth":2,"tickColor":"black","domain":true,"domainColor":"black","domainWidth":4,"title":null}},
    "y":{"field":"y","type":"quantitative","scale":{"domain":[0,4],"nice":false,"zero":false},
     "axis":{"orient":"left","values":[1,2,3],"labels":false,"tickSize":-8,"tickWidth":3,"tickColor":"black","domain":false,"title":null}},
    "color":{"field":"s","type":"nominal","scale":{"domain":["O p","Ni d"],"range":["#ff1a1a","#3355bb"]},
     "legend":{"orient":"none","legendX":215,"legendY":20,"title":null,"labelFont":"Liberation Serif","labelFontSize":22,"labelColor":"black","symbolType":"stroke","symbolSize":529,"symbolStrokeWidth":2,"symbolDash":[1,0],"labelOffset":6,"rowPadding":2}}}},
  {"transform":[{"filter":"datum.s=='Ni d'"}],
   "mark":{"type":"line","strokeWidth":3,"clip":true},
   "encoding":{
    "x":{"field":"x","type":"quantitative","scale":{"domain":[-8,8],"nice":false,"zero":false},"axis":null},
    "y":{"field":"y","type":"quantitative","scale":{"domain":[0,4],"nice":false,"zero":false},
     "axis":{"orient":"right","values":[4],"labelExpr":"''+datum.value","labelFont":"Liberation Serif","labelFontSize":28,"labelColor":"black","labelFlush":false,"labelOverlap":false,"tickSize":-8,"tickWidth":2,"tickColor":"black","labelPadding":20,"labelOffset":3,"domain":false,"title":null}},
    "color":{"field":"s","type":"nominal"}}},
  {"data":{"values":[{"x":0}]},
   "mark":{"type":"rule","strokeDash":[6,4],"strokeWidth":1.5,"color":"black"},
   "encoding":{"x":{"field":"x","type":"quantitative","scale":{"domain":[-8,8],"nice":false,"zero":false},"axis":null}}}
 ]},
{"width":400,"height":157,
 "title":{"text":"LaCuO₃","font":"Liberation Serif","fontSize":29,"fontWeight":"normal","color":"black","baseline":"alphabetic","offset":-38,"dx":19,"anchor":"middle"},
 "data":{"name":"dosR"},
 "resolve":{"axis":{"x":"independent","y":"independent"}},
 "layer":[
  {"transform":[{"filter":"datum.s=='t'"}],
   "mark":{"type":"area","color":"#dadada","clip":true},
   "encoding":{
    "x":{"field":"x","type":"quantitative","scale":{"domain":[-9,8],"nice":false,"zero":false},
     "axis":{"orient":"bottom","values":[-8,-6,-4,-2,0,2,4,6,8],"labelExpr":"''+datum.value","labelFont":"Liberation Serif","labelFontSize":28,"labelColor":"black","labelFlush":false,"labelOverlap":false,"tickSize":-9,"tickWidth":2,"tickColor":"black","labelPadding":6,"domain":true,"domainColor":"black","domainWidth":2.5,"title":"Energy\u00a0 (eV)","titleFont":"Liberation Serif","titleFontSize":29,"titleFontWeight":"normal","titleColor":"black","titleX":225,"titleY":61,"titleBaseline":"alphabetic","titleAlign":"center"}},
    "y":{"field":"y","type":"quantitative","scale":{"domain":[0,3],"nice":false,"zero":false},
     "axis":{"orient":"right","values":[0,2],"labelExpr":"''+datum.value","labelFont":"Liberation Serif","labelFontSize":28,"labelColor":"black","labelFlush":false,"labelOverlap":false,"tickSize":-8,"tickWidth":2,"tickColor":"black","labelPadding":17,"domain":false,"title":"DOS (States/eV-spin-unit cell)","titleFont":"Liberation Serif","titleFontSize":30,"titleFontWeight":"normal","titleColor":"black","titleAngle":270,"titleX":61,"titleY":127,"titleAlign":"center","titleBaseline":"alphabetic"}}}},
  {"transform":[{"filter":"datum.s=='O p'"}],
   "mark":{"type":"line","strokeDash":[6,3],"strokeWidth":1.6,"clip":true},
   "encoding":{
    "x":{"field":"x","type":"quantitative","scale":{"domain":[-9,8],"nice":false,"zero":false},
     "axis":{"orient":"top","values":[-8,-6,-4,-2,0,2,4,6,8],"labels":false,"tickSize":-9,"tickWidth":2,"tickColor":"black","domain":true,"domainColor":"black","domainWidth":2.5,"title":null}},
    "y":{"field":"y","type":"quantitative","scale":{"domain":[0,3],"nice":false,"zero":false},
     "axis":{"orient":"left","values":[2],"labels":false,"tickSize":-10,"tickWidth":2,"tickColor":"black","domain":false,"title":null}},
    "color":{"field":"s","type":"nominal","scale":{"domain":["O p","Cu d"],"range":["#ff1a1a","#1010ff"]},
     "legend":{"orient":"none","legendX":215,"legendY":14,"title":null,"labelFont":"Liberation Serif","labelFontSize":22,"labelColor":"black","symbolType":"stroke","symbolSize":529,"symbolStrokeWidth":2,"symbolDash":[1,0],"labelOffset":6,"rowPadding":5}}}},
  {"transform":[{"filter":"datum.s=='Cu d'"}],
   "mark":{"type":"line","strokeWidth":1.6,"clip":true},
   "encoding":{
    "x":{"field":"x","type":"quantitative","scale":{"domain":[-9,8],"nice":false,"zero":false},"axis":null},
    "y":{"field":"y","type":"quantitative","scale":{"domain":[0,3],"nice":false,"zero":false},"axis":null},
    "color":{"field":"s","type":"nominal"}}},
  {"data":{"values":[{"x":0}]},
   "mark":{"type":"rule","strokeDash":[6,4],"strokeWidth":1.5,"color":"black"},
   "encoding":{"x":{"field":"x","type":"quantitative","scale":{"domain":[-9,8],"nice":false,"zero":false},"axis":null}}}
 ]},
{"width":400,"height":480,
 "resolve":{"axis":{"x":"independent","y":"independent"}},
 "layer":[
  {"data":{"values":[{"k":49},{"k":146},{"k":195},{"k":292},{"k":351}]},
   "mark":{"type":"rule","strokeDash":[5,4],"strokeWidth":1,"color":"#222"},
   "encoding":{"x":{"field":"k","type":"quantitative","scale":{"domain":[0,399],"nice":false,"zero":false},"axis":null}}},
  {"data":{"values":[{"e":0}]},
   "mark":{"type":"rule","color":"#888","strokeWidth":1.5},
   "encoding":{"y":{"field":"e","type":"quantitative","scale":{"domain":[-7,9],"nice":false,"zero":false},
     "axis":{"orient":"right","values":[-6,-5,-4,-3,-2,-1,0,1,2,3,4,5,6,7,8],"labels":false,"tickSize":-5,"tickWidth":1.5,"tickColor":"black","domain":false,"title":null}}}},
  {"data":{"name":"bandL"},
   "mark":{"type":"line","color":"black","strokeWidth":4.6,"strokeCap":"round","strokeDash":[0.1,7.4],"interpolate":"monotone","clip":true},
   "encoding":{
    "x":{"field":"k","type":"quantitative","scale":{"domain":[0,399],"nice":false,"zero":false},
     "axis":{"orient":"bottom","values":[0,49,146,195,292,351,399],"labelExpr":"datum.value==0?'Γ':datum.value==49?'Z':datum.value==146?'H':datum.value==195?'K':datum.value==292?'Γ':datum.value==351?'M':'L'","labelFont":"Liberation Serif","labelFontSize":17,"labelColor":"#333","labelFlush":false,"labelOverlap":false,"ticks":false,"labelPadding":2,"domain":false,"title":null}},
    "y":{"field":"e","type":"quantitative","scale":{"domain":[-7,9],"nice":false,"zero":false},
     "axis":{"orient":"left","values":[-6,-5,-4,-3,-2,-1,0,1,2,3,4,5,6,7,8],"labelExpr":"datum.value%2==0?''+datum.value:''","labelFont":"Liberation Serif","labelFontSize":17,"labelColor":"#444","labelFlush":false,"labelOverlap":false,"tickSize":-6,"tickWidth":1.5,"tickColor":"black","labelPadding":10,"domain":false,"title":"Energy (eV)","titleFont":"Liberation Sans","titleFontSize":25,"titleFontWeight":"normal","titleColor":"#333","titleAngle":270,"titleX":-26,"titleY":240,"titleAlign":"center","titleBaseline":"alphabetic"}},
    "detail":{"field":"b","type":"nominal"}}}
 ]},
{"width":397,"height":483,
 "view":{"stroke":"#555","strokeWidth":1.5},
 "resolve":{"axis":{"x":"independent","y":"independent"}},
 "layer":[
  {"data":{"values":[{"k":58},{"k":138},{"k":192},{"k":277},{"k":339}]},
   "mark":{"type":"rule","strokeDash":[5,4],"strokeWidth":1,"color":"#222"},
   "encoding":{"x":{"field":"k","type":"quantitative","scale":{"domain":[0,397],"nice":false,"zero":false},"axis":null}}},
  {"data":{"values":[{"e":0}]},
   "mark":{"type":"rule","color":"#333","strokeWidth":1.5},
   "encoding":{"y":{"field":"e","type":"quantitative","scale":{"domain":[-7.5,9],"nice":false,"zero":false},
     "axis":{"orient":"right","values":[-7,-6,-5,-4,-3,-2,-1,0,1,2,3,4,5,6,7,8],"labels":false,"tickSize":-5,"tickWidth":1,"tickColor":"#555","domain":false,"title":null}}}},
  {"data":{"name":"bandR"},
   "mark":{"type":"line","color":"black","strokeWidth":2.8,"strokeCap":"round","strokeDash":[0.1,3.6],"interpolate":"monotone","clip":true},
   "encoding":{
    "x":{"field":"k","type":"quantitative","scale":{"domain":[0,397],"nice":false,"zero":false},
     "axis":{"orient":"bottom","values":[0,58,138,192,277,339,397],"labelExpr":"datum.value==0?'Γ':datum.value==58?'Z':datum.value==138?'H':datum.value==192?'K':datum.value==277?'Γ':datum.value==339?'M':'L'","labelFont":"Liberation Serif","labelFontSize":17,"labelColor":"#333","labelFlush":false,"labelOverlap":false,"ticks":false,"labelPadding":3,"domain":false,"title":null}},
    "y":{"field":"e","type":"quantitative","scale":{"domain":[-7.5,9],"nice":false,"zero":false},
     "axis":{"orient":"left","values":[-7,-6,-5,-4,-3,-2,-1,0,1,2,3,4,5,6,7,8],"labelExpr":"datum.value%2==0?''+datum.value:''","labelFont":"Liberation Serif","labelFontSize":17,"labelColor":"#444","labelFlush":false,"labelOverlap":false,"tickSize":-6,"tickWidth":1,"tickColor":"#555","labelPadding":10,"domain":false,"title":"Energy (eV)","titleFont":"Liberation Sans","titleFontSize":25,"titleFontWeight":"normal","titleColor":"#333","titleAngle":270,"titleX":-27,"titleY":241,"titleAlign":"center","titleBaseline":"alphabetic"}},
    "detail":{"field":"b","type":"nominal"}}}
 ]}
]
}
